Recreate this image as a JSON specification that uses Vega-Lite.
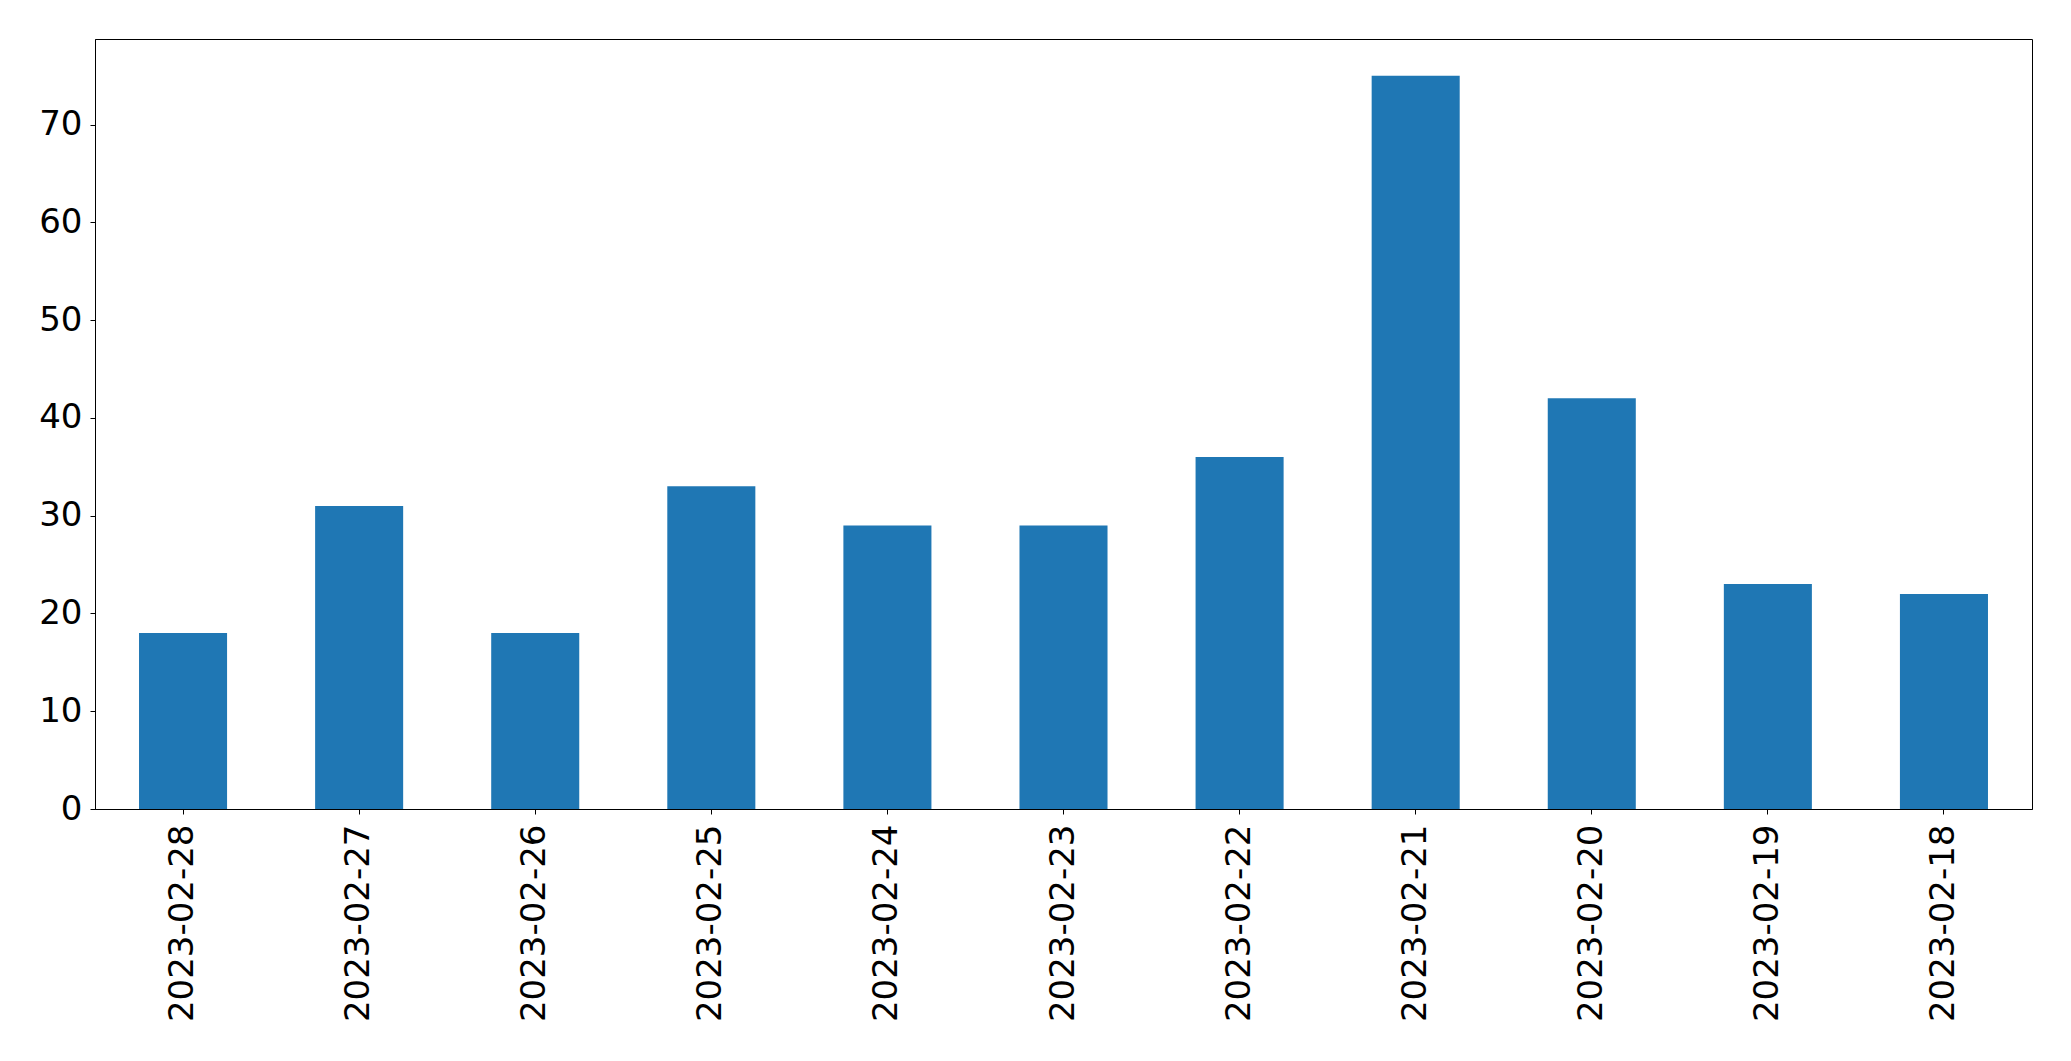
{
  "$schema": "https://vega.github.io/schema/vega-lite/v6.json",
  "autosize": {"type": "none"},
  "padding": {"left": 95, "top": 39, "right": 40, "bottom": 252},
  "width": 1937,
  "height": 770,
  "background": "white",
  "data": {"values": [
    {"date": "2023-02-28", "count": 18},
    {"date": "2023-02-27", "count": 31},
    {"date": "2023-02-26", "count": 18},
    {"date": "2023-02-25", "count": 33},
    {"date": "2023-02-24", "count": 29},
    {"date": "2023-02-23", "count": 29},
    {"date": "2023-02-22", "count": 36},
    {"date": "2023-02-21", "count": 75},
    {"date": "2023-02-20", "count": 42},
    {"date": "2023-02-19", "count": 23},
    {"date": "2023-02-18", "count": 22}
  ]},
  "mark": {"type": "bar", "color": "#1f77b4"},
  "encoding": {
    "x": {
      "field": "date", "type": "nominal", "sort": null,
      "scale": {"paddingInner": 0.5, "paddingOuter": 0.25},
      "axis": {
        "title": null, "labelAngle": -90, "labelAlign": "right", "labelBaseline": "middle",
        "labelFont": "DejaVu Sans", "labelFontSize": 34, "labelColor": "black",
        "labelPadding": 10, "labelLimit": 0, "tickColor": "black", "tickSize": 5, "tickWidth": 1,
        "domainColor": "black", "domainWidth": 1, "grid": false
      }
    },
    "y": {
      "field": "count", "type": "quantitative",
      "scale": {"domain": [0, 78.75], "nice": false, "zero": true},
      "axis": {
        "title": null, "values": [0, 10, 20, 30, 40, 50, 60, 70],
        "labelFont": "DejaVu Sans", "labelFontSize": 34, "labelColor": "black",
        "labelPadding": 8, "tickColor": "black", "tickSize": 5, "tickWidth": 1,
        "domainColor": "black", "domainWidth": 1, "grid": false
      }
    }
  },
  "config": {"view": {"stroke": "black", "strokeWidth": 1}}
}
